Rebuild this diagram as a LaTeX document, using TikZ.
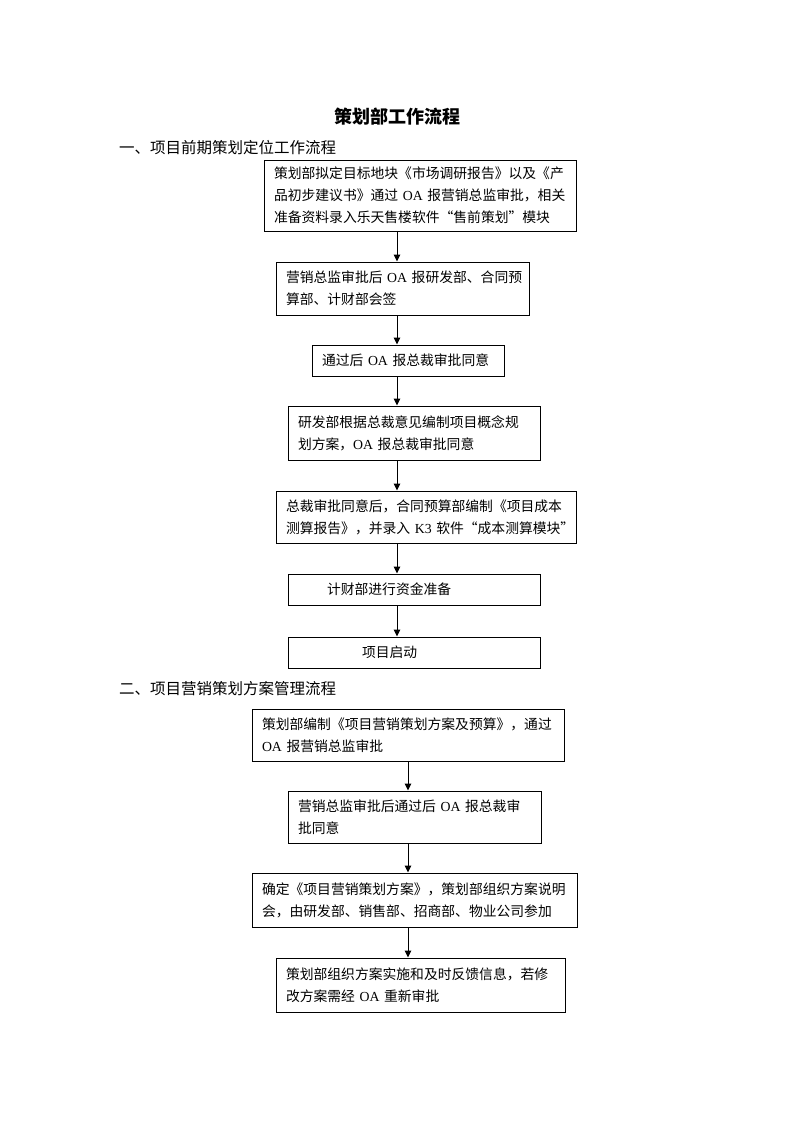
\documentclass[tikz,border=0pt]{standalone}
\usepackage{fontspec}
\setmainfont{Noto Sans CJK SC}
\newfontfamily\latfont{Liberation Serif}
\newcommand\lat[1]{{\latfont #1}}
\usetikzlibrary{arrows.meta}
\begin{document}
\begin{tikzpicture}[x=1pt,y=-1pt,
  box/.style={draw,line width=1pt,inner xsep=10pt,inner ysep=0pt,align=left,
    font=\fontsize{13.8}{22}\selectfont},
  arr/.style={line width=1pt,-{Triangle[length=7pt,width=6.5pt]}},
  head/.style={anchor=west,inner sep=0pt,font=\fontsize{15.5}{18}\selectfont}]
\useasboundingbox (0,0) rectangle (793,1122);
\node[font=\fontsize{18}{20}\selectfont\bfseries] (title) at (397,117) {策划部工作流程};
\node[head] (h1) at (119,148) {一、项目前期策划定位工作流程};
\node[head] (h2) at (119,689) {二、项目营销策划方案管理流程};

\node[box,text width=292pt,minimum height=71pt] (b1) at (420,195.5)
 {策划部拟定目标地块《市场调研报告》以及《产\\品初步建议书》通过~\lat{OA}~报营销总监审批，相关\\准备资料录入乐天售楼软件“售前策划”模块};
\node[box,text width=233pt,minimum height=53pt] (b2) at (402.5,288.5)
 {营销总监审批后~\lat{OA}~报研发部、合同预\\算部、计财部会签};
\node[box,text width=172pt,minimum height=31pt] (b3) at (408,360.5)
 {通过后~\lat{OA}~报总裁审批同意};
\node[box,text width=232pt,minimum height=54pt] (b4) at (414,433)
 {研发部根据总裁意见编制项目概念规\\划方案，\lat{OA}~报总裁审批同意};
\node[box,text width=280pt,minimum height=52pt] (b5) at (426,517)
 {总裁审批同意后，合同预算部编制《项目成本\\测算报告》，并录入~\lat{K3}~软件“成本测算模块”};
\node[box,text width=232pt,minimum height=31pt] (b6) at (414,589.5)
 {\hspace*{29pt}计财部进行资金准备};
\node[box,text width=232pt,minimum height=31pt] (b7) at (414,652.5)
 {\hspace*{64pt}项目启动};

\node[box,text width=292pt,minimum height=52pt] (b8) at (408,735)
 {策划部编制《项目营销策划方案及预算》，通过\\\lat{OA}~报营销总监审批};
\node[box,text width=233pt,minimum height=52pt] (b9) at (414.5,817)
 {营销总监审批后通过后~\lat{OA}~报总裁审\\批同意};
\node[box,text width=305pt,minimum height=54pt] (b10) at (414.5,900)
 {确定《项目营销策划方案》，策划部组织方案说明\\会，由研发部、销售部、招商部、物业公司参加};
\node[box,text width=269pt,minimum height=54pt] (b11) at (420.5,985)
 {策划部组织方案实施和及时反馈信息，若修\\改方案需经~\lat{OA}~重新审批};

\coordinate (xa) at (397,0);
\coordinate (xb) at (408,0);
\draw[arr] (b1.south -| xa) -- (b2.north -| xa);
\draw[arr] (b2.south -| xa) -- (b3.north -| xa);
\draw[arr] (b3.south -| xa) -- (b4.north -| xa);
\draw[arr] (b4.south -| xa) -- (b5.north -| xa);
\draw[arr] (b5.south -| xa) -- (b6.north -| xa);
\draw[arr] (b6.south -| xa) -- (b7.north -| xa);
\draw[arr] (b8.south -| xb) -- (b9.north -| xb);
\draw[arr] (b9.south -| xb) -- (b10.north -| xb);
\draw[arr] (b10.south -| xb) -- (b11.north -| xb);
\end{tikzpicture}
\end{document}
